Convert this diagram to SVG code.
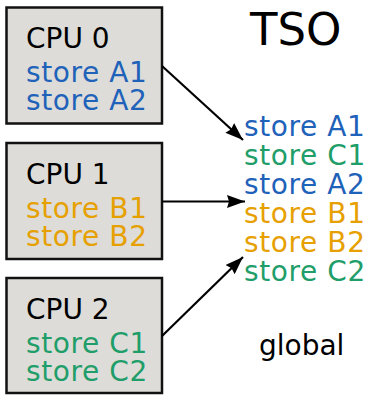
<svg xmlns="http://www.w3.org/2000/svg" width="369" height="395" viewBox="0 0 369 395">
<style>
text{font-family:"DejaVu Sans",Verdana,sans-serif;font-size:28px}
.s{letter-spacing:0.6px}
.box{fill:#dddcd8;stroke:#111;stroke-width:2.5}
.k{fill:#000}.a{fill:#1f62b9}.b{fill:#e6a000}.c{fill:#1f9e6a}
.ln{stroke:#000;stroke-width:2.2;fill:none}
</style>
<defs>
<marker id="arr" viewBox="0 0 18 13" refX="18" refY="6.5" markerWidth="18" markerHeight="13" markerUnits="userSpaceOnUse" orient="auto">
<path d="M0,0L18,6.5L0,13L2,6.5z" fill="#000"/>
</marker>
</defs>
<g id="cpu0">
<rect class="box" x="6.5" y="7.5" width="155.5" height="116"/>
<text class="k" x="26" y="48">CPU 0</text>
<text class="a s" x="26" y="82">store A1</text>
<text class="a s" x="26" y="110">store A2</text>
</g>
<g id="cpu1">
<rect class="box" x="6.5" y="143" width="155.5" height="116"/>
<text class="k" x="26" y="184">CPU 1</text>
<text class="b s" x="26" y="218">store B1</text>
<text class="b s" x="26" y="246">store B2</text>
</g>
<g id="cpu2">
<rect class="box" x="6.5" y="278" width="155.5" height="115"/>
<text class="k" x="26" y="319">CPU 2</text>
<text class="c s" x="26" y="353">store C1</text>
<text class="c s" x="26" y="381">store C2</text>
</g>
<g id="tso">
<text class="k" x="250" y="45" style="font-size:45px">TSO</text>
</g>
<g id="global">
<text class="a s" x="244" y="136">store A1</text>
<text class="c s" x="244" y="165">store C1</text>
<text class="a s" x="244" y="194">store A2</text>
<text class="b s" x="244" y="223">store B1</text>
<text class="b s" x="244" y="252">store B2</text>
<text class="c s" x="244" y="281">store C2</text>
<text class="k" x="259" y="355">global</text>
</g>
<g id="connectors">
<line class="ln" x1="162" y1="66" x2="243" y2="140" marker-end="url(#arr)"/>
<line class="ln" x1="162" y1="201.5" x2="245" y2="201.5" marker-end="url(#arr)"/>
<line class="ln" x1="162" y1="336" x2="243" y2="257" marker-end="url(#arr)"/>
</g>
</svg>
